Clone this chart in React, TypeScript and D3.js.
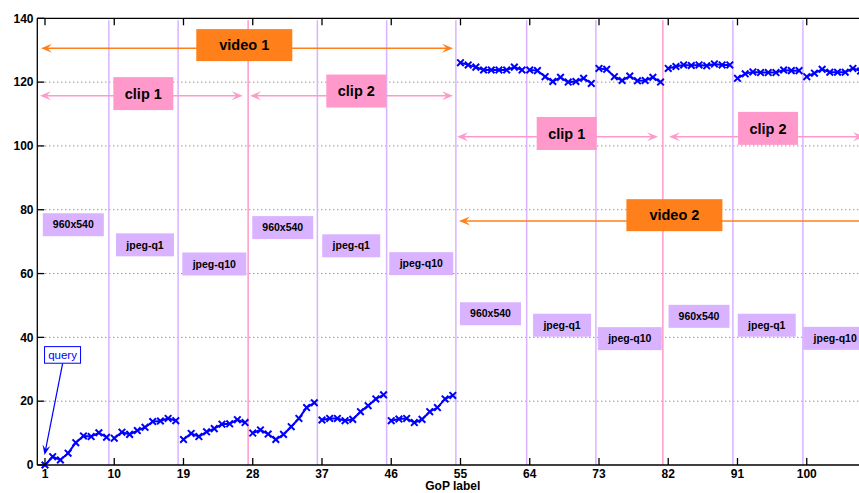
import React from "react";
import * as d3 from "d3";

const W = 859;
const H = 493;

// GoP values, one array per 9-GoP segment
const segStarts = [1, 10, 19, 28, 37, 46, 55, 64, 73, 82, 91, 100];
const segValues = [
  [0, 2.6, 1.6, 3.7, 7.0, 9.1, 8.9, 10.1, 8.7],
  [8.4, 10.3, 9.6, 10.8, 11.8, 13.6, 13.8, 14.6, 13.9],
  [8.0, 9.9, 8.9, 10.4, 11.4, 12.8, 12.9, 14.2, 13.3],
  [10.0, 11.0, 9.7, 8.0, 9.6, 12.0, 14.6, 18.0, 19.5],
  [14.1, 14.6, 14.6, 13.9, 14.3, 16.7, 18.6, 20.7, 22.0],
  [13.9, 14.4, 14.6, 13.3, 14.3, 16.7, 18.0, 20.7, 21.8],
  [126.1, 125.4, 124.7, 123.8, 123.8, 123.8, 123.8, 124.7, 123.8],
  [123.8, 123.6, 121.7, 120.2, 121.5, 120.0, 120.2, 121.2, 119.6],
  [124.3, 124.0, 121.7, 120.5, 121.9, 120.4, 120.5, 121.5, 120.0],
  [124.3, 124.9, 125.4, 125.2, 125.4, 125.1, 125.7, 125.4, 125.4],
  [121.2, 122.6, 123.2, 123.0, 123.0, 123.0, 123.8, 123.6, 123.6],
  [121.7, 122.8, 124.0, 123.1, 123.1, 123.1, 124.3, 123.5, 123.5],
];

const xTicks = [1, 10, 19, 28, 37, 46, 55, 64, 73, 82, 91, 100];
const yTicks = [0, 20, 40, 60, 80, 100, 120, 140];

// segment boundaries (GoP) and whether it is a clip boundary
const boundaries = [9.3, 18.3, 27.4, 36.4, 45.4, 54.4, 63.6, 72.6, 81.3, 90.4, 99.5];
const clipBoundaries = [27.4, 81.3];

// small format labels: text, x (GoP), y (value)
const fmtText = ["960x540", "jpeg-q1", "jpeg-q10", "960x540", "jpeg-q1", "jpeg-q10", "960x540", "jpeg-q1", "jpeg-q10", "960x540", "jpeg-q1", "jpeg-q10"];
const fmtX = [4.68, 14.0, 23.0, 31.9, 40.8, 49.9, 58.9, 68.2, 77.0, 86.0, 94.8, 103.7];
const fmtY = [75.3, 69.0, 63.0, 74.4, 68.7, 63.1, 47.4, 43.8, 39.6, 46.6, 43.8, 39.7];

// big labels with double arrows
const bigText = ["video 1", "clip 1", "clip 2", "clip 1", "clip 2", "video 2"];
const bigKind = ["video", "clip", "clip", "clip", "clip", "video"];
const bigX = [26.9, 13.78, 41.46, 68.8, 94.97, 82.8];
const bigY = [131.6, 116.4, 117.2, 103.9, 105.5, 78.3];
const arrowY = [130.6, 115.7, 115.7, 102.9, 102.9, 76.5];
const arrowX1 = [0.48, 0.35, 27.65, 54.55, 82.1, 54.81];
const arrowX2 = [54.03, 26.7, 54.03, 80.67, 107.45, 108.9];

// query annotation
const queryBox = { x: 3.28, y: 34.5 };
const queryTip = { x: 0.94, y: 3.1 };
const queryTail = { x: 3.3, y: 31.9 };

const ORANGE = "#ff801a";
const PINK = "#ff99cc";
const PURPLE = "#d9b3ff";
const BLUE = "#0000ff";

const x = d3.scaleLinear().domain([0, 108]).range([37.3, 868.3]);
const y = d3.scaleLinear().domain([0, 140]).range([465, 18.3]);

function headPath(tx: number, ty: number, ang: number, L = 10, Wd = 4) {
  const c = Math.cos(ang), s = Math.sin(ang);
  const bx = tx - c * L, by = ty - s * L;
  const p1 = [bx - s * Wd, by + c * Wd];
  const p2 = [bx + s * Wd, by - c * Wd];
  const n = [tx - c * L * 0.6, ty - s * L * 0.6];
  return `M${tx},${ty}L${p1[0]},${p1[1]}L${n[0]},${n[1]}L${p2[0]},${p2[1]}Z`;
}

export default function App() {
  const line = d3
    .line<[number, number]>()
    .x((d) => x(d[0]))
    .y((d) => y(d[1]));
  const font = "'Liberation Sans', Arial, Helvetica, sans-serif";
  const left = x.range()[0];
  const right = x.range()[1];
  const top = y.range()[1];
  const bottom = y.range()[0];

  const qx1 = x(queryTail.x), qy1 = y(queryTail.y);
  const qx2 = x(queryTip.x), qy2 = y(queryTip.y);
  const qang = Math.atan2(qy2 - qy1, qx2 - qx1);

  return (
    <div style={{ position: "fixed", left: 0, top: 0, width: W, height: H, background: "#fff" }}>
      <svg width={W} height={H} style={{ display: "block", fontFamily: font }}>
        <rect x={0} y={0} width={W} height={H} fill="#fff" />
        {/* grid */}
        {yTicks.slice(1, -1).map((t) => (
          <line key={"g" + t} x1={left} x2={right} y1={y(t)} y2={y(t)} stroke="#666" strokeWidth={1} strokeDasharray="1 3" />
        ))}
        {/* boundaries */}
        {boundaries.map((b) => (
          <line
            key={"b" + b}
            x1={x(b)}
            x2={x(b)}
            y1={top + 2}
            y2={bottom}
            stroke={clipBoundaries.includes(b) ? PINK : PURPLE}
            strokeWidth={1.5}
          />
        ))}
        {/* data */}
        {segValues.map((vals, i) => {
          const pts: [number, number][] = vals.map((v, j) => [segStarts[i] + j, v]);
          return (
            <g key={"s" + i}>
              <path d={line(pts) || ""} fill="none" stroke={BLUE} strokeWidth={2} />
              {pts.map((p, j) => {
                const cx = x(p[0]), cy = y(p[1]), r = 3.3;
                return (
                  <path
                    key={j}
                    d={`M${cx - r},${cy - r}L${cx + r},${cy + r}M${cx - r},${cy + r}L${cx + r},${cy - r}`}
                    stroke={BLUE}
                    strokeWidth={2}
                  />
                );
              })}
            </g>
          );
        })}
        {/* axes */}
        <line x1={left} x2={right} y1={bottom} y2={bottom} stroke="#000" strokeWidth={1.3} />
        <line x1={left} x2={right} y1={top} y2={top} stroke="#000" strokeWidth={1.3} />
        <line x1={left} x2={left} y1={top} y2={bottom} stroke="#000" strokeWidth={1.3} />
        {xTicks.map((t) => (
          <g key={"xt" + t}>
            <line x1={x(t)} x2={x(t)} y1={bottom} y2={bottom - 7} stroke="#000" strokeWidth={1.3} />
            <line x1={x(t)} x2={x(t)} y1={top} y2={top + 7} stroke="#000" strokeWidth={1.3} />
            <text x={x(t)} y={bottom + 12.5} textAnchor="middle" fontSize={12} fontWeight="bold">
              {t}
            </text>
          </g>
        ))}
        {yTicks.map((t) => (
          <g key={"yt" + t}>
            <line x1={left} x2={left + 7} y1={y(t)} y2={y(t)} stroke="#000" strokeWidth={1.3} />
            <text x={33.5} y={y(t) + 4.2} textAnchor="end" fontSize={12} fontWeight="bold">
              {t}
            </text>
          </g>
        ))}
        <text x={(left + right) / 2} y={490.3} textAnchor="middle" fontSize={12} fontWeight="bold">
          GoP label
        </text>
        {/* format labels */}
        {fmtText.map((t, i) => {
          const w = t === "960x540" ? 61 : t === "jpeg-q1" ? 58 : 64;
          const cx = x(fmtX[i]), cy = y(fmtY[i]);
          return (
            <g key={"f" + i}>
              <rect x={cx - w / 2} y={cy - 11.5} width={w} height={23} fill={PURPLE} />
              <text x={cx} y={cy + 3.7} textAnchor="middle" fontSize={10.5} fontWeight="bold">
                {t}
              </text>
            </g>
          );
        })}
        {/* big labels */}
        {bigText.map((t, i) => {
          const col = bigKind[i] === "video" ? ORANGE : PINK;
          const ay = y(arrowY[i]);
          const ax1 = x(arrowX1[i]);
          const ax2 = x(arrowX2[i]);
          const w = bigKind[i] === "video" ? 96 : 60;
          const h = bigKind[i] === "video" ? 32 : 33;
          const cx = x(bigX[i]), cy = y(bigY[i]);
          return (
            <g key={"B" + i}>
              <line x1={ax1 + 4} x2={ax2 - 4} y1={ay} y2={ay} stroke={col} strokeWidth={1.5} />
              <path d={headPath(ax1, ay, Math.PI, 11, 4.5)} fill={col} />
              <path d={headPath(ax2, ay, 0, 11, 4.5)} fill={col} />
              <rect x={cx - w / 2} y={cy - h / 2} width={w} height={h} fill={col} />
              <text x={cx} y={cy + 5.3} textAnchor="middle" fontSize={14.5} fontWeight="bold">
                {t}
              </text>
            </g>
          );
        })}
        {/* query */}
        <line x1={qx1} y1={qy1} x2={qx2 - Math.cos(qang) * 5} y2={qy2 - Math.sin(qang) * 5} stroke={BLUE} strokeWidth={1.2} />
        <path d={headPath(qx2, qy2, qang, 10, 4)} fill={BLUE} />
        <rect x={x(queryBox.x) - 18} y={y(queryBox.y) - 8.3} width={36} height={16.6} fill="#fff" stroke={BLUE} strokeWidth={1} />
        <text x={x(queryBox.x)} y={y(queryBox.y) + 4} textAnchor="middle" fontSize={11.5} fill={BLUE}>
          query
        </text>
      </svg>
    </div>
  );
}
